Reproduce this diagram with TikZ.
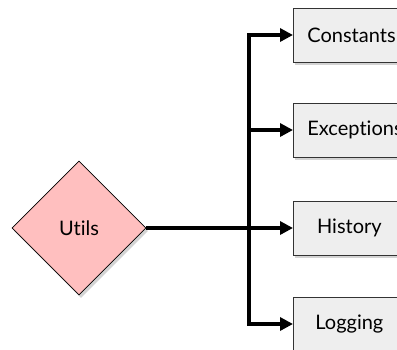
\documentclass[tikz,border=0pt]{standalone}
\usepackage{fontspec}
\setmainfont{Lato}[Ligatures={NoCommon,NoRare}]
\usetikzlibrary{shapes.geometric,arrows.meta,shadows}
\definecolor{pinkfill}{HTML}{FFBFBF}
\definecolor{boxfill}{HTML}{EEEEEE}
\definecolor{boxline}{HTML}{333333}
\tikzset{
  mainnode/.style={diamond, aspect=1, minimum width=134pt, minimum height=134pt, inner sep=0pt,
    draw=black, line width=0.8pt, fill=pinkfill, font=\fontsize{20}{24}\selectfont,
    drop shadow={shadow xshift=2pt, shadow yshift=-3pt, opacity=0.35}},
  leafbox/.style={rectangle, anchor=west, minimum width=112pt, minimum height=54pt, inner xsep=14pt, inner ysep=0pt,
    draw=boxline, line width=0.8pt, fill=boxfill, font=\fontsize{20}{24}\selectfont,
    drop shadow={shadow xshift=2pt, shadow yshift=-3pt, opacity=0.35}},
  conn/.style={line width=3.5pt, black},
  arr/.style={conn, -{Triangle[length=13pt,width=13pt]}}
}
\begin{document}
\begin{tikzpicture}[x=1pt,y=-1pt]
\useasboundingbox (0,0) rectangle (397,349);
\node[mainnode] (utils) at (79,228) {Utils};
\node[leafbox] (const) at (293,35) {Constants};
\node[leafbox] (exc) at (293,130) {Exceptions};
\node[leafbox] (hist) at (293,228) {History};
\node[leafbox] (log) at (293,324) {Logging};
\coordinate (j) at (249,228);
\draw[arr] (utils.east) -- (hist.west);
\draw[arr] (j) |- (const.west);
\draw[arr] (j) |- (exc.west);
\draw[arr] (j) |- (log.west);
\end{tikzpicture}
\end{document}
